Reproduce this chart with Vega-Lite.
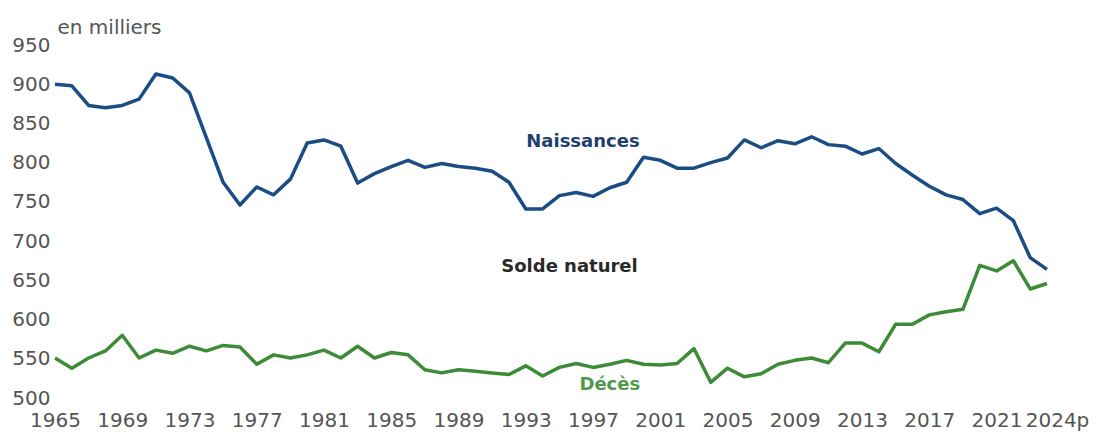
{
  "$schema": "https://vega.github.io/schema/vega-lite/v6.json",
  "width": 992,
  "height": 353,
  "autosize": {"type": "none"},
  "padding": {"left": 55, "top": 45, "right": 50, "bottom": 34},
  "background": "white",
  "config": {"view": {"stroke": null}, "font": "DejaVu Sans"},
  "datasets": {
    "series": [
      {"annee": 1965, "naissances": 900, "deces": 551},
      {"annee": 1966, "naissances": 898, "deces": 538},
      {"annee": 1967, "naissances": 873, "deces": 551},
      {"annee": 1968, "naissances": 870, "deces": 560},
      {"annee": 1969, "naissances": 873, "deces": 580},
      {"annee": 1970, "naissances": 881, "deces": 551},
      {"annee": 1971, "naissances": 913, "deces": 561},
      {"annee": 1972, "naissances": 908, "deces": 557},
      {"annee": 1973, "naissances": 889, "deces": 566},
      {"annee": 1974, "naissances": 832, "deces": 560},
      {"annee": 1975, "naissances": 775, "deces": 567},
      {"annee": 1976, "naissances": 746, "deces": 565},
      {"annee": 1977, "naissances": 769, "deces": 543},
      {"annee": 1978, "naissances": 759, "deces": 555},
      {"annee": 1979, "naissances": 779, "deces": 551},
      {"annee": 1980, "naissances": 825, "deces": 555},
      {"annee": 1981, "naissances": 829, "deces": 561},
      {"annee": 1982, "naissances": 821, "deces": 551},
      {"annee": 1983, "naissances": 774, "deces": 566},
      {"annee": 1984, "naissances": 786, "deces": 551},
      {"annee": 1985, "naissances": 795, "deces": 558},
      {"annee": 1986, "naissances": 803, "deces": 555},
      {"annee": 1987, "naissances": 794, "deces": 536},
      {"annee": 1988, "naissances": 799, "deces": 532},
      {"annee": 1989, "naissances": 795, "deces": 536},
      {"annee": 1990, "naissances": 793, "deces": 534},
      {"annee": 1991, "naissances": 789, "deces": 532},
      {"annee": 1992, "naissances": 775, "deces": 530},
      {"annee": 1993, "naissances": 741, "deces": 541},
      {"annee": 1994, "naissances": 741, "deces": 528},
      {"annee": 1995, "naissances": 758, "deces": 539},
      {"annee": 1996, "naissances": 762, "deces": 544},
      {"annee": 1997, "naissances": 757, "deces": 539},
      {"annee": 1998, "naissances": 768, "deces": 543},
      {"annee": 1999, "naissances": 775, "deces": 548},
      {"annee": 2000, "naissances": 807, "deces": 543},
      {"annee": 2001, "naissances": 803, "deces": 542},
      {"annee": 2002, "naissances": 793, "deces": 544},
      {"annee": 2003, "naissances": 793, "deces": 563},
      {"annee": 2004, "naissances": 800, "deces": 520},
      {"annee": 2005, "naissances": 806, "deces": 538},
      {"annee": 2006, "naissances": 829, "deces": 527},
      {"annee": 2007, "naissances": 819, "deces": 531},
      {"annee": 2008, "naissances": 828, "deces": 543},
      {"annee": 2009, "naissances": 824, "deces": 548},
      {"annee": 2010, "naissances": 833, "deces": 551},
      {"annee": 2011, "naissances": 823, "deces": 545},
      {"annee": 2012, "naissances": 821, "deces": 570},
      {"annee": 2013, "naissances": 811, "deces": 570},
      {"annee": 2014, "naissances": 818, "deces": 559},
      {"annee": 2015, "naissances": 799, "deces": 594},
      {"annee": 2016, "naissances": 784, "deces": 594},
      {"annee": 2017, "naissances": 770, "deces": 606},
      {"annee": 2018, "naissances": 759, "deces": 610},
      {"annee": 2019, "naissances": 753, "deces": 613},
      {"annee": 2020, "naissances": 735, "deces": 669},
      {"annee": 2021, "naissances": 742, "deces": 662},
      {"annee": 2022, "naissances": 726, "deces": 675},
      {"annee": 2023, "naissances": 679, "deces": 639},
      {"annee": 2024, "naissances": 664, "deces": 646}
    ],
    "etiquettes": [
      {"annee": 1996.4, "valeur": 826, "texte": "Naissances", "groupe": "n"},
      {"annee": 1995.6, "valeur": 667, "texte": "Solde naturel", "groupe": "s"},
      {"annee": 1998.0, "valeur": 516, "texte": "Décès", "groupe": "d"}
    ]
  },
  "encoding": {
    "x": {
      "field": "annee", "type": "quantitative",
      "scale": {"domain": [1965, 2024], "nice": false, "zero": false},
      "axis": {
        "title": null, "values": [1965, 1969, 1973, 1977, 1981, 1985, 1989, 1993, 1997, 2001, 2005, 2009, 2013, 2017, 2021, 2024],
        "format": "d", "labelExpr": "datum.value == 2024 ? '2024p' : datum.label",
        "labelOffset": {"condition": {"test": "datum.value == 2024", "value": 10}, "value": 0},
        "grid": false, "domain": false, "ticks": false, "labelPadding": 12,
        "labelFontSize": 20, "labelColor": "#555555", "labelFlush": false, "labelOverlap": false
      }
    }
  },
  "layer": [
    {
      "data": {"name": "series"},
      "mark": {"type": "line", "color": "#1b4c84", "strokeWidth": 3.5, "strokeJoin": "round"},
      "encoding": {
        "y": {
          "field": "naissances", "type": "quantitative",
          "scale": {"domain": [500, 950], "nice": false, "zero": false},
          "axis": {
            "title": "en milliers", "titleAngle": 0, "titleAlign": "left", "titleBaseline": "alphabetic",
            "titleX": 2, "titleY": -12, "titleFontSize": 20, "titleFontWeight": "normal", "titleColor": "#555555",
            "values": [500, 550, 600, 650, 700, 750, 800, 850, 900, 950],
            "grid": false, "domain": false, "ticks": false, "labelPadding": 5,
            "labelFontSize": 20, "labelColor": "#555555", "labelOverlap": false
          }
        }
      }
    },
    {
      "data": {"name": "series"},
      "mark": {"type": "line", "color": "#3d8b37", "strokeWidth": 3.5, "strokeJoin": "round"},
      "encoding": {
        "y": {
          "field": "deces", "type": "quantitative",
          "scale": {"domain": [500, 950], "nice": false, "zero": false},
          "axis": {
            "title": "en milliers", "titleAngle": 0, "titleAlign": "left", "titleBaseline": "alphabetic",
            "titleX": 2, "titleY": -12, "titleFontSize": 20, "titleFontWeight": "normal", "titleColor": "#555555",
            "values": [500, 550, 600, 650, 700, 750, 800, 850, 900, 950],
            "grid": false, "domain": false, "ticks": false, "labelPadding": 5,
            "labelFontSize": 20, "labelColor": "#555555", "labelOverlap": false
          }
        }
      }
    },
    {
      "data": {"name": "etiquettes"},
      "mark": {"type": "text", "fontSize": 18, "fontWeight": "bold", "align": "center", "baseline": "middle"},
      "encoding": {
        "y": {
          "field": "valeur", "type": "quantitative",
          "scale": {"domain": [500, 950], "nice": false, "zero": false},
          "axis": {
            "title": "en milliers", "titleAngle": 0, "titleAlign": "left", "titleBaseline": "alphabetic",
            "titleX": 2, "titleY": -12, "titleFontSize": 20, "titleFontWeight": "normal", "titleColor": "#555555",
            "values": [500, 550, 600, 650, 700, 750, 800, 850, 900, 950],
            "grid": false, "domain": false, "ticks": false, "labelPadding": 5,
            "labelFontSize": 20, "labelColor": "#555555", "labelOverlap": false
          }
        },
        "text": {"field": "texte"},
        "color": {"field": "groupe", "type": "nominal", "scale": {"domain": ["n", "s", "d"], "range": ["#1f3f6e", "#2a2a2a", "#4e9a4a"]}, "legend": null}
      }
    }
  ]
}
